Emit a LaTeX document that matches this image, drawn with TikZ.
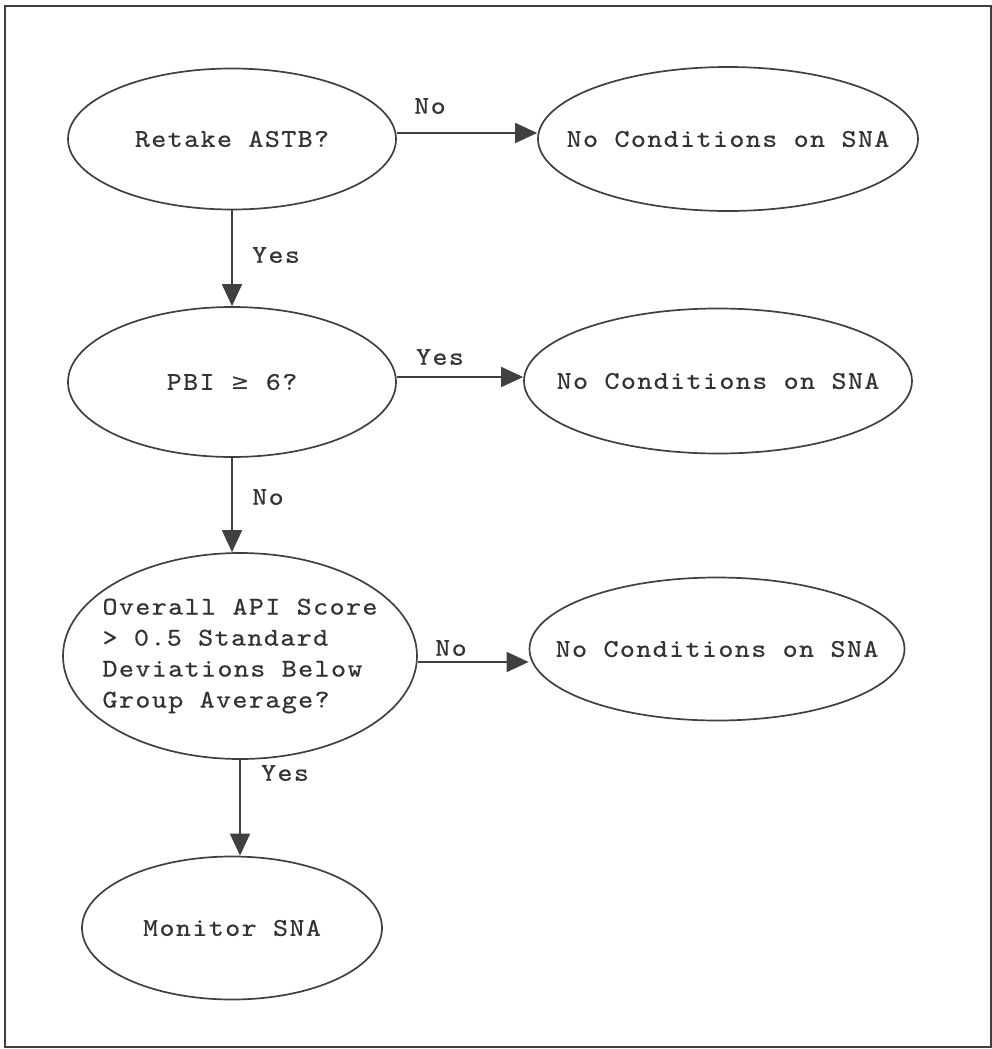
\documentclass[tikz,border=0pt]{standalone}
\usepackage{fontspec}
\newfontfamily\courlike{lmmono10-regular.otf}[FakeStretch=1.12,LetterSpace=5.6,FakeBold=0.6]
\newfontfamily\symfont{DejaVu Sans}
\usetikzlibrary{shapes.geometric,arrows.meta}
\newcommand\zw[1]{\makebox[0pt]{#1}}
\begin{document}
\begin{tikzpicture}[x=1pt,y=-1pt,
  every node/.style={font=\courlike\fontsize{25.5}{31}\selectfont, text=black!80},
  oval/.style={ellipse, draw=black!75, line width=1.7pt, inner sep=0pt},
  conn/.style={draw=black!75, line width=1.7pt, -{Triangle[length=22pt,width=20pt]}},
  lab/.style={inner sep=0pt}]
\useasboundingbox (0,0) rectangle (992,1049);
\draw[black!75, line width=2pt] (5,6) rectangle (991,1047);

\node[oval, minimum width=328pt, minimum height=141pt] (n1) at (232,139) {\zw{Retake ASTB?}};
\node[oval, minimum width=380pt, minimum height=144pt] (n2) at (728,139) {\zw{No Conditions on SNA}};
\node[oval, minimum width=328pt, minimum height=150pt] (n3) at (232,382) {\zw{PBI {\symfont\fontsize{22}{31}\selectfont≥} 6?}};
\node[oval, minimum width=388pt, minimum height=145pt] (n4) at (718,381) {\zw{No Conditions on SNA}};
\node[oval, minimum width=354pt, minimum height=206pt] (n5) at (240,656) {};
\node[align=left, inner sep=0pt] (t5) at (240,656) {Overall API Score\\\textgreater{} 0.5 Standard\\Deviations Below\\Group Average?};
\node[oval, minimum width=375pt, minimum height=143pt] (n6) at (717,649) {\zw{No Conditions on SNA}};
\node[oval, minimum width=300pt, minimum height=143pt] (n7) at (232,928) {\zw{Monitor SNA}};

\draw[conn] (n1.east |- 0,133) -- (n2.west |- 0,133);
\draw[conn] (n1) -- (n3);
\draw[conn] (n3.east |- 0,377) -- (n4.west |- 0,377);
\draw[conn] (n3.south) -- (n3.south |- n5.north);
\draw[conn] (n5.east |- 0,662) -- (n6.west |- 0,662);
\draw[conn] (n5.south) -- (n5.south |- n7.north);

\node[lab] (l1) at (430,106) {No};
\node[lab] (l2) at (276,255) {Yes};
\node[lab] (l3) at (440,357) {Yes};
\node[lab] (l4) at (268,497) {No};
\node[lab] (l5) at (451,648) {No};
\node[lab] (l6) at (285,773) {Yes};
\end{tikzpicture}
\end{document}
